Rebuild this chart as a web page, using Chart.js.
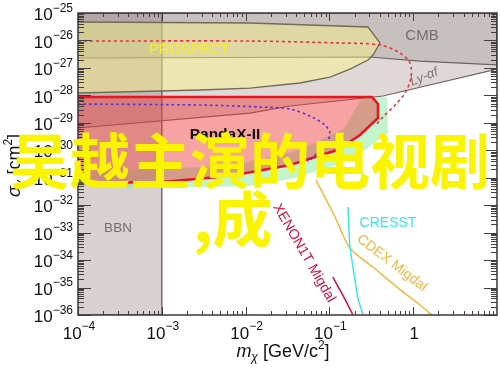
<!DOCTYPE html>
<html>
<head>
<meta charset="utf-8">
<title>Light dark matter limits</title>
<script src="https://cdn.jsdelivr.net/npm/chart.js@4.4.1/dist/chart.umd.min.js"></script>
<style>
  html, body { margin: 0; padding: 0; background: #fff; }
  #wrap { width: 500px; height: 371px; }
</style>
</head>
<body>
<div id="wrap"><canvas id="limits" width="500" height="371"></canvas></div>
<script>
// axes: dark matter mass (GeV/c^2) vs cross section (cm^2)
const massRange = [1e-4, 10];
const sigmaRange = [1e-36, 1e-25];
const xTickPowers = [-4, -3, -2, -1, 0];
const yTickPowers = [-25, -26, -27, -28, -29, -30, -31, -32, -33, -34, -35, -36];

// excluded regions
const bbnMass = [1e-4, 1e-3, 1e-3, 1e-4];
const bbnSigma = [1e-36, 1e-36, 1e-25, 1e-25];

const lyaMass = [1e-4, 10, 10, 0.436, 0.0339, 0.0113, 1e-4];
const lyaSigma = [1e-25, 1e-25, 9.1e-28, 9.46e-29, 4.09e-29, 2.27e-29, 6.47e-30];

const cmbMass = [1e-4, 10, 10, 1.2, 0.305, 1e-4];
const cmbSigma = [1e-25, 1e-25, 1.28e-27, 1.78e-27, 2.5e-27, 2.3e-27];

const prospectMass = [1e-4, 0.0113, 0.289, 0.402, 0.331, 0.289, 0.176, 0.1016, 0.0446, 0.0113, 2.9e-3, 1e-4];
const prospectSigma = [4.7e-26, 4.33e-26, 3.09e-26, 8.07e-27, 2.95e-27, 1.94e-27, 9.1e-28, 4.66e-28, 2.82e-28, 1.85e-28, 1.57e-28, 1.22e-28];

const greenMass = [1e-4, 6.5e-3, 0.0446, 0.153, 0.245, 0.487, 0.5, 0.266, 0.1166, 0.0389, 0.0113, 1e-3, 1e-4];
const greenSigma = [1.61e-31, 2.67e-31, 1.02e-30, 6.47e-30, 8.7e-29, 8.7e-29, 4.25e-30, 1.02e-30, 2.9e-31, 9.75e-32, 4.99e-32, 4.22e-32, 4.99e-32];

const pandaMass = [1e-4, 0.322, 0.38, 0.38, 0.232, 0.124, 0.0339, 6.5e-3, 1e-3, 1e-4];
const pandaSigma = [8.7e-29, 8.7e-29, 4.84e-29, 1.5e-29, 3.6e-30, 1.02e-30, 2.9e-31, 1.15e-31, 6.97e-32, 6.41e-32];

// limit curves
const redDotMass = [1e-4, 0.0113, 0.1337, 0.402, 0.695, 0.916, 0.94, 0.798, 0.641, 0.436, 0.35];
const redDotSigma = [9.5e-27, 9.5e-27, 8.07e-27, 6.83e-27, 3.49e-27, 1.51e-27, 4.28e-28, 1.22e-28, 5.26e-29, 1.63e-29, 7.64e-30];

const blueDotMass = [1e-4, 2.9e-3, 0.0149, 0.0339, 0.062, 0.0886, 0.1016, 0.0936, 0.073, 0.0556];
const blueDotSigma = [4.84e-29, 4.45e-29, 3.76e-29, 3.18e-29, 1.63e-29, 8.3e-30, 4.25e-30, 2.0e-30, 8.6e-31, 3.73e-31];

const xenonMass = [0.110, 0.1337, 0.162, 0.191];
const xenonSigma = [2.41e-35, 8.1e-36, 2.72e-36, 1e-36];

const cresstMass = [0.1667, 0.171, 0.176, 0.202, 0.219, 0.252];
const cresstSigma = [8.57e-33, 1.47e-33, 2.99e-34, 1.87e-35, 4.14e-36, 1e-36];

const cdexMass = [0.0692, 0.1166, 0.176, 0.331, 0.641, 1.205, 1.675];
const cdexSigma = [8.24e-32, 3.7e-33, 2.75e-34, 5.58e-35, 1.04e-35, 2.31e-36, 1e-36];

const FONT = '"Liberation Sans", Arial, Helvetica, sans-serif';

function pts(xs, ys) {
  return xs.map((v, i) => ({ x: v, y: ys[i] }));
}

function region(label, xs, ys, fillColor, lineColor, width, order) {
  return {
    label, data: pts(xs, ys), showLine: true, fill: 'shape',
    backgroundColor: fillColor, borderColor: lineColor, borderWidth: width,
    pointRadius: 0, tension: 0, order
  };
}

function curve(label, xs, ys, color, width, dash, order) {
  return {
    label, data: pts(xs, ys), showLine: true, fill: false,
    borderColor: color, borderWidth: width, borderDash: dash,
    pointRadius: 0, tension: 0.3, order
  };
}

// text made of pieces: [text, size, dy, italic]
function drawPieces(ctx, pieces, x, y, align) {
  let total = 0;
  pieces.forEach(p => {
    ctx.font = (p[3] ? 'italic ' : '') + p[1] + 'px ' + FONT;
    p.w = ctx.measureText(p[0]).width;
    total += p.w;
  });
  let cx = align === 'right' ? x - total : align === 'center' ? x - total / 2 : x;
  pieces.forEach(p => {
    ctx.font = (p[3] ? 'italic ' : '') + p[1] + 'px ' + FONT;
    ctx.fillText(p[0], cx, y + p[2]);
    cx += p.w;
  });
}

function powPieces(p) {
  if (p === 0) return [['1', 17, 0]];
  return [['10', 17, 0], ['\u2212' + Math.abs(p), 12, -7]];
}

const decorations = {
  id: 'decorations',
  afterDatasetsDraw(chart) {
    const { ctx, chartArea: a, scales: { x, y } } = chart;
    ctx.save();

    // region labels
    ctx.textBaseline = 'middle';
    ctx.textAlign = 'center';
    ctx.fillStyle = '#f6ee2c';
    ctx.font = '14.5px ' + FONT;
    ctx.fillText('PROSPECT', 189, 50);
    ctx.fillStyle = '#776d6b';
    ctx.font = '15px ' + FONT;
    ctx.fillText('CMB', 422, 36);
    ctx.font = '13.5px ' + FONT;
    ctx.fillText('BBN', 118, 228);
    ctx.fillStyle = '#111';
    ctx.font = 'bold 15.5px ' + FONT;
    ctx.fillText('PandaX-II', 225, 135);
    ctx.fillStyle = '#3ee3ee';
    ctx.font = '14px ' + FONT;
    ctx.fillText('CRESST', 388, 223);

    ctx.save();
    ctx.translate(424, 77);
    ctx.rotate(-22 * Math.PI / 180);
    ctx.fillStyle = '#857674';
    ctx.font = 'italic 13px ' + FONT;
    ctx.fillText('Ly-\u03b1f', 0, 0);
    ctx.restore();

    ctx.save();
    ctx.translate(304, 253);
    ctx.rotate(60 * Math.PI / 180);
    ctx.fillStyle = '#d4103c';
    ctx.font = '14px ' + FONT;
    ctx.fillText('XENON1T Migdal', 0, 0);
    ctx.restore();

    ctx.save();
    ctx.translate(392, 263);
    ctx.rotate(37.5 * Math.PI / 180);
    ctx.fillStyle = '#f0b840';
    ctx.font = '14px ' + FONT;
    ctx.fillText('CDEX Migdal', 0, 0);
    ctx.restore();

    // frame and inward ticks
    ctx.strokeStyle = '#443d3b';
    ctx.lineWidth = 1;
    ctx.beginPath();
    for (let p = -4; p <= 0; p++) {
      for (let m = 1; m <= 9; m++) {
        const px = Math.round(x.getPixelForValue(m * Math.pow(10, p))) + 0.5;
        const len = m === 1 ? 8 : 4;
        ctx.moveTo(px, a.bottom); ctx.lineTo(px, a.bottom - len);
        ctx.moveTo(px, a.top); ctx.lineTo(px, a.top + len);
      }
    }
    for (let p = -36; p <= -26; p++) {
      for (let m = 1; m <= 9; m++) {
        const py = Math.round(y.getPixelForValue(m * Math.pow(10, p))) + 0.5;
        const len = m === 1 ? 13 : 6;
        ctx.moveTo(a.left, py); ctx.lineTo(a.left + len, py);
        ctx.moveTo(a.right, py); ctx.lineTo(a.right - len, py);
      }
    }
    ctx.stroke();
    ctx.lineWidth = 1.5;
    ctx.strokeStyle = '#3c3634';
    ctx.strokeRect(a.left, a.top, a.right - a.left, a.bottom - a.top);
    ctx.restore();
  },
  afterDraw(chart) {
    const { ctx, scales: { x, y } } = chart;
    ctx.save();
    ctx.fillStyle = '#111';
    ctx.textAlign = 'left';
    ctx.textBaseline = 'middle';

    xTickPowers.forEach(p => {
      drawPieces(ctx, powPieces(p), x.getPixelForValue(Math.pow(10, p)) + 1, 334, 'center');
    });
    yTickPowers.forEach(p => {
      drawPieces(ctx, powPieces(p), 73, y.getPixelForValue(Math.pow(10, p)) + 2.5, 'right');
    });

    // axis titles
    ctx.textBaseline = 'alphabetic';
    drawPieces(ctx, [['m', 18, 0, true], ['\u03c7', 12, 4, true], [' [GeV/c', 18, 0], ['2', 12, -8], [']', 18, 0]], 283, 357, 'center');

    ctx.save();
    ctx.translate(20, 197);
    ctx.rotate(-Math.PI / 2);
    drawPieces(ctx, [['\u03c3', 18, 0, true], ['\u03c7', 12, 4, true], [' [cm', 18, 0], ['2', 12, -8], [']', 18, 0]], 0, 0, 'left');
    ctx.restore();

    // overlay caption
    ctx.fillStyle = '#fbf400';
    ctx.font = 'bold 60px "Noto Sans CJK SC", sans-serif';
    ctx.textBaseline = 'middle';
    ctx.textAlign = 'left';
    ctx.fillText('吴越主演的电视剧', 10, 161);
    ctx.fillText(',成', 193, 219);
    ctx.restore();
  }
};

new Chart(document.getElementById('limits'), {
  type: 'scatter',
  data: {
    datasets: [
      curve('XENON1T Migdal', xenonMass, xenonSigma, '#d4103c', 1.5, [], 0),
      curve('CRESST', cresstMass, cresstSigma, '#3ee6f0', 1.5, [], 0),
      curve('CDEX Migdal', cdexMass, cdexSigma, '#f0b840', 1.5, [], 0),
      curve('red dotted', redDotMass, redDotSigma, '#e8303c', 1.6, [3, 3], 0),
      curve('blue dotted', blueDotMass, blueDotSigma, '#5b2be0', 1.6, [2.5, 3], 0),
      region('PandaX-II', pandaMass, pandaSigma, 'rgba(238,50,50,0.45)', '#e8141e', 2.5, 1),
      region('green', greenMass, greenSigma, 'rgba(120,230,150,0.45)', 'rgba(0,0,0,0)', 0, 2),
      region('PROSPECT', prospectMass, prospectSigma, 'rgba(255,245,130,0.44)', '#736a57', 1.3, 3),
      region('CMB', cmbMass, cmbSigma, 'rgba(130,125,125,0.27)', '#6f6361', 1.2, 4),
      region('Ly-a', lyaMass, lyaSigma, 'rgba(140,115,110,0.28)', '#6f6361', 1.2, 5),
      region('BBN', bbnMass, bbnSigma, 'rgba(160,140,135,0.4)', '#7b6e6b', 1.5, 6)
    ]
  },
  options: {
    responsive: false,
    animation: false,
    devicePixelRatio: 1,
    layout: { padding: { left: 78, right: 3, top: 13, bottom: 56 } },
    plugins: { legend: { display: false }, tooltip: { enabled: false } },
    scales: {
      x: { type: 'logarithmic', min: massRange[0], max: massRange[1], display: false },
      y: { type: 'logarithmic', min: sigmaRange[0], max: sigmaRange[1], display: false }
    }
  },
  plugins: [decorations]
});
</script>
</body>
</html>
